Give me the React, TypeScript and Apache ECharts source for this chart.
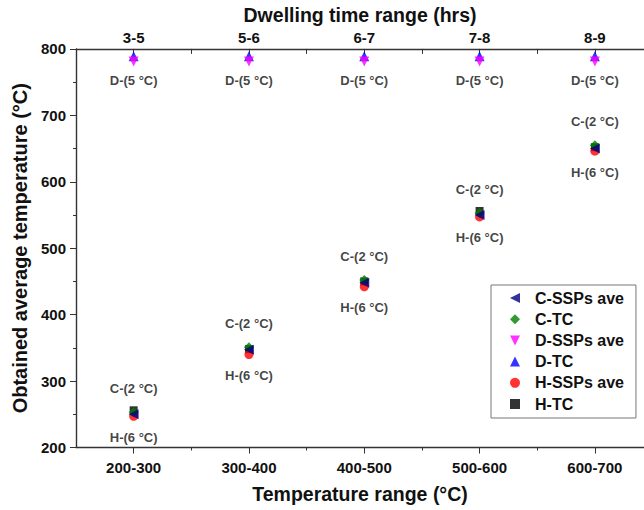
import React, { useEffect, useRef } from "react";
import * as echarts from "echarts";

const categories = ["200-300", "300-400", "400-500", "500-600", "600-700"];
const dwellingLabels = ["3-5", "5-6", "6-7", "7-8", "8-9"];
const cSSPsAve = [250, 347, 448, 550, 650];
const cTC = [253, 351, 452, 553, 655];
const dSSPsAve = [781, 781, 781, 781, 781];
const dTC = [789, 789, 789, 789, 789];
const hSSPsAve = [247, 340, 442, 547, 646];
const hTC = [256, 348, 450, 556, 652];
const yTicks = [200, 300, 400, 500, 600, 700, 800];

const FONT = "Liberation Sans, Arial, sans-serif";
const LEFT_TRI = "path://M10,0 L0,5 L10,10 Z";
const DOWN_TRI = "path://M0,0 L10,0 L5,10 Z";

export default function App() {
  const ref = useRef<HTMLDivElement>(null);
  useEffect(() => {
    if (!ref.current) return;
    const chart = echarts.init(ref.current, null, { renderer: "svg" });
    const idx = categories.map((_, i) => i);
    const halves = categories.map((_, i) => i + 0.5);
    const pts = (arr: number[]) => arr.map((v, i) => [i, v]);
    const textStyle = { fontFamily: FONT, fontWeight: "bold" as const, color: "#111" };
    const axisLine = { show: true, onZero: false, lineStyle: { color: "#333", width: 1.4 } };
    const xMin = -0.5;
    const xMax = 4.426;
    const baseSeries = (name: string, data: number[], symbol: string, color: string, z = 2) => ({
      name,
      type: "scatter",
      data: pts(data),
      symbol,
      symbolSize: symbol === "circle" ? 9 : symbol === "rect" ? 8 : 10,
      itemStyle: { color },
      z,
    });
    chart.setOption({
      animation: false,
      backgroundColor: "#fff",
      textStyle: { fontFamily: FONT },
      grid: { left: 76, top: 48, right: 0, bottom: 62.5, containLabel: false },
      legend: {
        orient: "vertical",
        left: 491,
        top: 285,
        padding: [5, 12, 6, 19],
        itemWidth: 10,
        itemHeight: 10,
        itemGap: 5.2,
        borderColor: "#777",
        borderWidth: 1,
        textStyle: { ...textStyle, fontSize: 16, color: "#111", padding: [0, 0, 0, 10] },
        data: [
          { name: "C-SSPs ave", icon: LEFT_TRI },
          { name: "C-TC", icon: "diamond" },
          { name: "D-SSPs ave", icon: DOWN_TRI },
          { name: "D-TC", icon: "triangle" },
          { name: "H-SSPs ave", icon: "circle" },
          { name: "H-TC", icon: "rect" },
        ],
      },
      xAxis: [
        {
          type: "value",
          position: "bottom",
          min: xMin,
          max: xMax,
          name: "Temperature range (°C)",
          nameLocation: "middle",
          nameGap: 36,
          nameTextStyle: { ...textStyle, fontSize: 19.5 },
          axisLine,
          splitLine: { show: false },
          axisTick: { show: true, customValues: idx, length: 6, lineStyle: { color: "#333" } },
          axisLabel: {
            show: true,
            customValues: idx,
            margin: 12,
            ...textStyle,
            fontSize: 15,
            formatter: (v: number) => categories[Math.round(v)] ?? "",
          },
        },
        {
          type: "value",
          position: "bottom",
          min: xMin,
          max: xMax,
          axisLine: { show: false, onZero: false },
          splitLine: { show: false },
          axisTick: { show: true, customValues: halves, length: 3, lineStyle: { color: "#333" } },
          axisLabel: { show: false },
        },
        {
          type: "value",
          position: "top",
          min: xMin,
          max: xMax,
          name: "Dwelling time range (hrs)",
          nameLocation: "middle",
          nameGap: 21,
          nameTextStyle: { ...textStyle, fontSize: 19.5 },
          axisLine,
          splitLine: { show: false },
          axisTick: {
            show: true,
            inside: true,
            customValues: [...idx, ...halves],
            length: 5,
            lineStyle: { color: "#333" },
          },
          axisLabel: {
            show: true,
            customValues: idx,
            margin: 4,
            ...textStyle,
            fontSize: 15,
            formatter: (v: number) => dwellingLabels[Math.round(v)] ?? "",
          },
        },
      ],
      yAxis: {
        type: "value",
        min: yTicks[0],
        max: yTicks[yTicks.length - 1],
        interval: 100,
        name: "Obtained average temperature (°C)",
        nameLocation: "middle",
        nameGap: 45,
        nameTextStyle: { ...textStyle, fontSize: 20 },
        axisLine,
        splitLine: { show: false },
        axisTick: { show: true, length: 6, lineStyle: { color: "#333" } },
        minorTick: { show: true, splitNumber: 2, length: 3, lineStyle: { color: "#333" } },
        axisLabel: { ...textStyle, fontSize: 15, margin: 10 },
      },
      series: [
        {
          ...baseSeries("H-TC", hTC, "rect", "#000000", 2),
        },
        {
          ...baseSeries("H-SSPs ave", hSSPsAve, "circle", "#ff0000", 3),
          label: {
            show: true,
            position: "bottom",
            distance: 10,
            formatter: "H-(6 °C)",
            ...textStyle,
            fontSize: 13,
          },
        },
        {
          ...baseSeries("C-TC", cTC, "diamond", "#008000", 4),
          label: {
            show: true,
            position: "top",
            distance: 12,
            formatter: "C-(2 °C)",
            ...textStyle,
            fontSize: 13,
          },
        },
        {
          ...baseSeries("C-SSPs ave", cSSPsAve, LEFT_TRI, "#000080", 5),
        },
        {
          ...baseSeries("D-TC", dTC, "triangle", "#0000ff", 4),
        },
        {
          ...baseSeries("D-SSPs ave", dSSPsAve, DOWN_TRI, "#ff00ff", 5),
          label: {
            show: true,
            position: "bottom",
            distance: 7,
            formatter: "D-(5 °C)",
            ...textStyle,
            fontSize: 13,
          },
        },
      ],
    });
    return () => chart.dispose();
  }, []);
  return (
    <div
      ref={ref}
      style={{ position: "fixed", left: 0, top: 0, width: 644, height: 510, background: "#fff" }}
    />
  );
}
